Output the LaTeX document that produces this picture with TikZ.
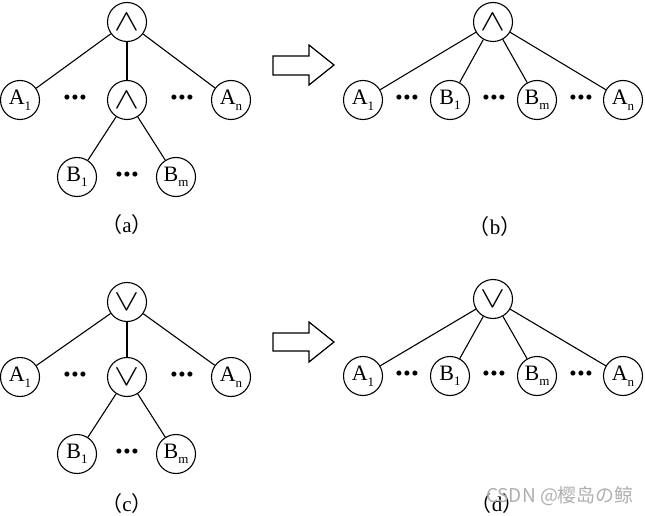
\documentclass[tikz,border=0pt]{standalone}
\usepackage{fontspec}
\usepackage{graphicx}
\setmainfont{Liberation Serif}
\newfontfamily\cjk{Noto Sans CJK SC}
\newcommand\lowsub[1]{\raisebox{-0.25em}{\fontsize{13}{13}\selectfont #1}}
\newcommand\bigand{\scalebox{1.8}[1.45]{$\wedge$}}
\newcommand\bigor{\scalebox{1.8}[1.45]{$\vee$}}
\newcommand\threedots{\textbullet\kern0.6pt\textbullet\kern0.6pt\textbullet}
\definecolor{wm}{RGB}{175,175,175}
\begin{document}
\begin{tikzpicture}[x=1pt,y=-1pt,
  vert/.style={circle, draw, line width=1.1pt, minimum size=39pt, inner sep=0pt, font=\fontsize{22}{22}\selectfont},
  edge/.style={line width=1.1pt},
  dotrow/.style={inner sep=0pt, font=\fontsize{21}{21}\selectfont},
  lab/.style={inner sep=0pt, font=\fontsize{21}{21}\selectfont},
  blockarrow/.style={draw, line width=1.2pt, fill=white, line join=miter}]
\useasboundingbox (0,0) rectangle (645,516);
% ---------- (a)
\node[vert] (ta) at (127,22) {\bigand};
\node[vert] (a1) at (20,100) {A\lowsub{1}};
\node[vert] (am) at (127,100) {\bigand};
\node[vert] (an) at (231,100) {A\lowsub{n}};
\node[vert] (ab1) at (77,177) {B\lowsub{1}};
\node[vert] (abm) at (176,177) {B\lowsub{m}};
\node[dotrow] (ad1) at (75,100) {\threedots};
\node[dotrow] (ad2) at (182,100) {\threedots};
\node[dotrow] (ad3) at (127,177) {\threedots};
\draw[edge] (ta) -- (a1);
\draw[edge] (ta) -- (am);
\draw[edge] (ta) -- (an);
\draw[edge] (am) -- (ab1);
\draw[edge] (am) -- (abm);
\node[lab] (la) at (127,225) {{\cjk （}a{\cjk ）}};
% ---------- arrow (b)
\draw[blockarrow] (273,56) -- (309,56) -- (309,45) -- (334,65) -- (309,85) -- (309,75) -- (273,75) -- cycle;
% ---------- (b)
\node[vert] (tb) at (493,22) {\bigand};
\node[vert] (b1) at (363,100) {A\lowsub{1}};
\node[vert] (b2) at (450,100) {B\lowsub{1}};
\node[vert] (b3) at (537,100) {B\lowsub{m}};
\node[vert] (b4) at (623,100) {A\lowsub{n}};
\node[dotrow] (bd1) at (407,100) {\threedots};
\node[dotrow] (bd2) at (494,100) {\threedots};
\node[dotrow] (bd3) at (581,100) {\threedots};
\draw[edge] (tb) -- (b1);
\draw[edge] (tb) -- (b2);
\draw[edge] (tb) -- (b3);
\draw[edge] (tb) -- (b4);
\node[lab] (lb) at (495,227) {{\cjk （}b{\cjk ）}};
% ---------- (c)
\node[vert] (tc) at (127,302) {\bigor};
\node[vert] (c1) at (20,377) {A\lowsub{1}};
\node[vert] (cm) at (127,377) {\bigor};
\node[vert] (cn) at (231,377) {A\lowsub{n}};
\node[vert] (cb1) at (77,454) {B\lowsub{1}};
\node[vert] (cbm) at (176,454) {B\lowsub{m}};
\node[dotrow] (cd1) at (75,377) {\threedots};
\node[dotrow] (cd2) at (182,377) {\threedots};
\node[dotrow] (cd3) at (127,454) {\threedots};
\draw[edge] (tc) -- (c1);
\draw[edge] (tc) -- (cm);
\draw[edge] (tc) -- (cn);
\draw[edge] (cm) -- (cb1);
\draw[edge] (cm) -- (cbm);
\node[lab] (lc) at (127,504) {{\cjk （}c{\cjk ）}};
% ---------- arrow (d)
\draw[blockarrow] (273,333) -- (309,333) -- (309,322) -- (334,342) -- (309,362) -- (309,351) -- (273,351) -- cycle;
% ---------- (d)
\node[vert] (td) at (493,299) {\bigor};
\node[vert] (d1) at (363,376) {A\lowsub{1}};
\node[vert] (d2) at (450,376) {B\lowsub{1}};
\node[vert] (d3) at (537,376) {B\lowsub{m}};
\node[vert] (d4) at (623,376) {A\lowsub{n}};
\node[dotrow] (dd1) at (407,376) {\threedots};
\node[dotrow] (dd2) at (494,376) {\threedots};
\node[dotrow] (dd3) at (581,376) {\threedots};
\draw[edge] (td) -- (d1);
\draw[edge] (td) -- (d2);
\draw[edge] (td) -- (d3);
\draw[edge] (td) -- (d4);
\node[lab] (ld) at (497,504) {{\cjk （}d{\cjk ）}};
\node[inner sep=0pt, text=wm, font=\cjk\fontsize{19}{19}\selectfont] (wmk) at (560,496) {CSDN @樱岛の鲸};
\end{tikzpicture}
\end{document}
